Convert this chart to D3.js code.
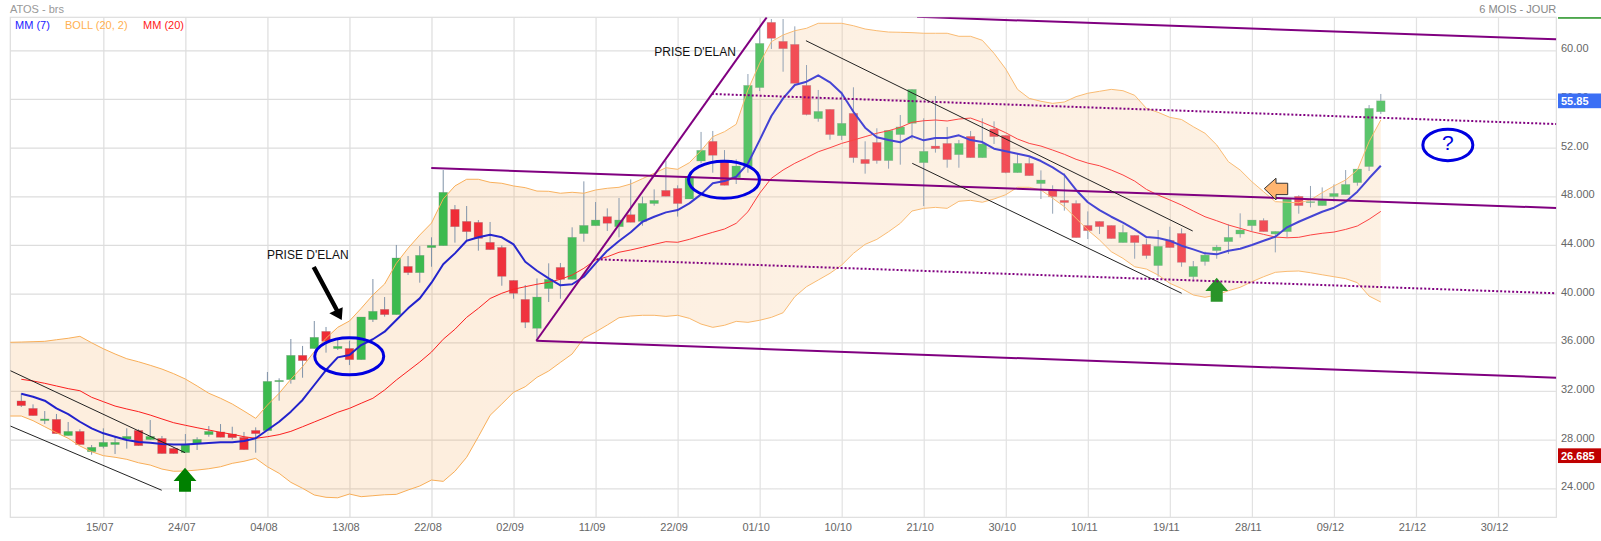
<!DOCTYPE html>
<html>
<head>
<meta charset="utf-8">
<title>ATOS - brs</title>
<script src="https://cdn.jsdelivr.net/npm/d3@7"></script>
<style>
  body { margin: 0; background: #fff; }
  svg { display: block; font-family: "Liberation Sans", Arial, sans-serif; }
  .tick text { font-size: 11px; fill: #666; }
</style>
</head>
<body>
<svg id="chart" width="1601" height="541"></svg>
<script>
// candles, one per trading day
const opens = [
  31.18, 30.57, 29.56, 29.67, 28.33, 28.68, 27.01, 27.42, 27.59, 28.05,
  28.76, 28.00, 28.10, 27.28, 26.93, 27.67, 28.41, 28.63, 28.46, 28.19,
  28.76, 28.74, 32.76, 32.93, 34.93, 35.48, 36.90, 35.48, 35.50, 34.57,
  37.86, 38.71, 38.27, 42.24, 41.72, 43.78, 43.94, 46.93, 45.94, 45.86,
  44.22, 43.80, 41.09, 39.53, 37.15, 40.41, 42.16, 41.17, 44.93, 45.58,
  46.33, 45.50, 46.49, 45.94, 47.40, 48.49, 48.65, 47.78, 50.90, 52.52,
  50.98, 49.53, 50.44, 56.93, 62.30, 60.74, 60.49, 57.12, 54.38, 55.15,
  52.98, 54.82, 51.04, 52.43, 50.93, 53.07, 54.00, 50.76, 52.13, 52.35,
  51.42, 52.93, 51.17, 53.53, 53.01, 49.94, 50.71, 49.04, 48.49, 47.67,
  47.42, 45.61, 45.94, 45.61, 44.19, 44.79, 44.05, 42.30, 44.38, 44.95,
  41.39, 42.63, 43.53, 44.27, 44.90, 45.58, 46.02, 44.90, 45.09, 48.00,
  47.48, 47.23, 47.97, 48.13, 49.12, 50.44, 54.95
];
const highs = [
  31.81, 30.90, 30.35, 30.11, 29.45, 28.85, 27.56, 28.93, 28.19, 28.93,
  28.85, 29.61, 28.30, 27.34, 28.46, 28.19, 29.12, 29.28, 29.06, 28.63,
  29.01, 33.56, 33.04, 36.27, 35.70, 37.75, 37.26, 36.19, 36.13, 38.08,
  41.20, 39.72, 44.00, 43.09, 43.91, 44.63, 50.16, 47.28, 47.20, 46.05,
  45.89, 43.97, 41.09, 40.71, 41.25, 42.49, 42.52, 45.45, 49.23, 47.53,
  47.01, 47.86, 49.39, 47.97, 48.57, 50.93, 48.90, 49.61, 53.29, 53.37,
  51.80, 51.04, 58.05, 61.94, 62.57, 62.57, 61.97, 58.79, 56.74, 55.15,
  56.60, 56.96, 52.52, 53.59, 53.42, 54.68, 56.79, 54.41, 56.24, 53.70,
  52.63, 53.37, 54.41, 54.16, 53.01, 51.53, 51.20, 50.13, 48.90, 49.89,
  47.67, 46.76, 45.94, 45.61, 45.67, 44.79, 44.54, 45.23, 45.50, 45.36,
  42.68, 43.45, 44.00, 45.69, 46.60, 46.05, 46.19, 45.12, 47.80, 48.08,
  48.85, 48.73, 48.98, 50.16, 50.24, 55.50, 56.41
];
const lows = [
  30.68, 29.97, 29.29, 28.49, 28.33, 27.59, 26.76, 27.28, 26.82, 27.26,
  27.50, 27.97, 26.85, 26.85, 26.93, 27.15, 28.24, 28.19, 28.02, 27.17,
  26.93, 28.74, 31.20, 32.60, 33.09, 35.48, 35.15, 35.37, 34.13, 34.57,
  37.67, 38.11, 38.27, 41.53, 40.90, 42.21, 43.94, 44.19, 44.41, 43.53,
  43.61, 40.65, 39.58, 37.17, 36.32, 39.31, 39.58, 41.17, 44.27, 45.58,
  45.15, 44.63, 45.86, 45.58, 47.23, 48.00, 46.33, 47.78, 50.71, 49.94,
  48.90, 49.01, 49.94, 56.65, 60.11, 58.24, 57.28, 54.65, 54.13, 52.65,
  52.63, 50.76, 49.86, 50.68, 50.27, 50.60, 52.68, 47.20, 51.59, 50.35,
  50.35, 51.17, 51.17, 52.30, 49.89, 49.94, 49.69, 47.78, 46.57, 46.82,
  44.60, 44.49, 44.90, 44.52, 44.19, 42.87, 42.87, 41.39, 43.78, 42.21,
  41.17, 42.30, 42.87, 43.26, 44.60, 45.15, 45.09, 43.39, 44.65, 46.57,
  47.09, 47.23, 47.56, 48.13, 48.87, 50.08, 54.76
];
const closes = [
  30.79, 29.97, 29.70, 28.49, 28.68, 27.59, 27.37, 27.78, 27.78, 28.27,
  27.50, 28.27, 26.85, 26.85, 27.56, 28.02, 28.68, 28.19, 28.16, 27.17,
  28.49, 32.79, 32.87, 34.93, 34.49, 36.41, 36.08, 35.67, 34.57, 38.08,
  38.55, 38.27, 42.93, 41.72, 43.15, 43.97, 48.33, 45.50, 45.09, 44.54,
  43.61, 41.42, 40.02, 37.64, 39.72, 41.17, 41.17, 44.63, 45.61, 46.05,
  45.78, 46.05, 45.86, 47.42, 47.67, 48.00, 47.40, 49.61, 51.78, 51.37,
  48.90, 50.49, 57.12, 60.57, 60.98, 60.13, 57.28, 54.71, 54.98, 53.07,
  54.00, 51.17, 50.68, 50.93, 53.42, 53.70, 56.79, 51.70, 51.91, 51.01,
  52.35, 51.17, 52.30, 52.90, 49.94, 50.71, 49.69, 49.34, 47.97, 47.48,
  44.60, 45.17, 45.50, 44.52, 45.04, 44.19, 43.12, 43.89, 43.78, 42.57,
  42.24, 43.17, 43.83, 44.63, 45.23, 46.05, 45.09, 45.12, 47.80, 47.23,
  47.56, 47.69, 48.24, 48.98, 50.24, 55.23, 55.85
];

// moving averages, same days as the candles
const mm7 = [
  31.77, 31.53, 31.20, 30.57, 30.10, 29.47, 28.93, 28.52, 28.24, 27.97,
  27.80, 27.74, 27.64, 27.61, 27.61, 27.66, 27.72, 27.78, 27.78, 27.88,
  28.11, 28.79, 29.47, 30.30, 31.26, 32.49, 33.72, 34.76, 34.95, 35.77,
  36.25, 36.87, 37.83, 38.79, 39.61, 40.90, 42.41, 43.31, 44.35, 44.63,
  44.84, 44.63, 44.05, 42.62, 41.88, 41.26, 40.68, 40.77, 41.39, 42.49,
  43.53, 44.32, 45.04, 45.91, 46.32, 46.68, 46.87, 47.42, 48.16, 49.07,
  49.25, 49.61, 50.71, 52.62, 54.60, 56.05, 57.15, 57.42, 57.94, 57.37,
  56.47, 54.95, 53.64, 52.85, 52.62, 52.44, 52.95, 52.60, 52.79, 52.79,
  53.01, 52.62, 52.46, 51.91, 51.70, 51.50, 51.29, 50.90, 50.38, 49.75,
  48.52, 47.51, 46.87, 46.32, 45.83, 45.28, 44.65, 44.57, 44.35, 43.94,
  43.64, 43.31, 43.23, 43.53, 43.69, 44.00, 44.35, 44.68, 45.45, 45.91,
  46.32, 46.73, 47.06, 47.56, 48.38, 49.48, 50.51
];
const mm20 = [
  32.96, 32.82, 32.63, 32.41, 32.19, 32.02, 31.48, 31.12, 30.76, 30.52,
  30.30, 30.02, 29.70, 29.39, 29.18, 28.98, 28.79, 28.60, 28.44, 28.24,
  28.11, 28.24, 28.41, 28.68, 29.06, 29.45, 29.84, 30.25, 30.57, 30.99,
  31.40, 32.08, 32.90, 33.64, 34.38, 35.20, 36.25, 37.07, 38.05, 38.79,
  39.60, 40.03, 40.36, 40.57, 40.77, 40.93, 41.18, 41.53, 42.08, 42.77,
  43.03, 43.40, 43.59, 43.81, 44.05, 44.27, 44.22, 44.46, 44.76, 45.04,
  45.31, 45.78, 46.73, 48.25, 49.48, 50.16, 50.71, 51.17, 51.66, 51.99,
  52.35, 52.62, 52.90, 53.18, 53.39, 53.67, 54.08, 54.21, 54.27, 54.19,
  54.35, 54.43, 54.08, 53.67, 53.22, 52.71, 52.35, 52.13, 51.80, 51.45,
  51.04, 50.73, 50.51, 50.16, 49.75, 49.25, 48.57, 48.10, 47.70, 47.28,
  46.79, 46.32, 45.99, 45.64, 45.37, 45.09, 44.87, 44.65, 44.59, 44.63,
  44.82, 44.96, 45.06, 45.28, 45.56, 46.11, 46.76
];

// bollinger bands start one day before the first candle
const bollUpper = [
  36.00,
  36.02, 36.05, 36.08, 36.21, 36.33, 36.49, 35.96, 35.47, 35.04, 34.65,
  34.40, 34.11, 33.80, 33.42, 32.98, 32.41, 31.81, 31.40, 30.93, 30.35,
  29.75, 30.84, 31.81, 32.96, 34.00, 35.23, 36.33, 37.23, 37.75, 38.79,
  39.89, 40.79, 42.49, 43.73, 44.82, 45.80, 47.78, 48.85, 49.40, 49.40,
  49.15, 49.07, 48.85, 48.71, 48.43, 48.41, 48.25, 48.33, 48.25, 48.52,
  48.66, 48.74, 49.01, 49.45, 49.89, 50.35, 50.22, 50.76, 51.75, 52.90,
  53.31, 53.92, 56.74, 58.93, 60.71, 61.26, 61.61, 61.81, 62.22, 62.22,
  62.22, 62.02, 61.75, 61.61, 61.50, 61.48, 61.45, 61.40, 61.40, 61.40,
  61.15, 61.15, 60.82, 59.75, 58.46, 56.79, 56.05, 55.81, 55.64, 55.75,
  56.19, 56.47, 56.63, 56.79, 56.68, 56.30, 55.23, 54.90, 54.49, 54.31,
  53.72, 53.18, 52.22, 50.84, 50.16, 49.20, 48.38, 47.56, 47.51, 47.47,
  47.70, 48.30, 48.85, 49.34, 50.16, 52.49, 54.27
];
const bollLower = [
  29.94,
  29.94, 29.56, 29.06, 28.57, 28.11, 27.48, 27.01, 26.68, 26.55, 26.38,
  26.10, 25.91, 25.58, 25.40, 25.42, 25.50, 25.61, 25.77, 26.05, 26.22,
  26.46, 25.77, 25.23, 24.49, 24.00, 23.45, 23.26, 23.22, 23.53, 23.31,
  23.39, 23.47, 23.50, 23.86, 24.19, 24.68, 24.57, 25.40, 26.55, 28.24,
  30.00, 30.93, 31.89, 32.35, 33.12, 33.64, 34.35, 35.04, 36.33, 36.85,
  37.42, 38.02, 38.16, 38.22, 38.22, 38.13, 38.22, 37.97, 37.50, 37.23,
  37.40, 37.72, 37.64, 37.81, 38.05, 38.43, 39.75, 40.57, 41.12, 41.67,
  42.35, 43.31, 44.05, 44.46, 45.09, 45.78, 46.79, 47.01, 47.09, 47.01,
  47.59, 47.67, 47.51, 47.78, 48.13, 48.74, 48.74, 48.52, 47.84, 47.15,
  46.19, 45.23, 44.41, 43.45, 42.90, 42.21, 42.02, 41.53, 40.85, 40.42,
  39.89, 39.70, 39.89, 40.24, 40.52, 40.98, 41.39, 41.75, 41.83, 41.86,
  41.72, 41.55, 41.39, 41.23, 40.90, 39.80, 39.31
];

// axes
const dateTicks = [7, 14, 21, 28, 35, 42, 49, 56, 63, 70, 77, 84, 91, 98, 105, 112, 119, 126];
const dateLabels = ['15/07', '24/07', '04/08', '13/08', '22/08', '02/09', '11/09', '22/09', '01/10',
  '10/10', '21/10', '30/10', '10/11', '19/11', '28/11', '09/12', '21/12', '30/12'];
const priceTicks = [60, 56, 52, 48, 44, 40, 36, 32, 28, 24];
const priceLabels = ['60.00', '56.00', '52.00', '48.000', '44.000', '40.000', '36.000', '32.000', '28.000', '24.000'];

// hand drawn annotations, as [day, price] pairs
const blackLines = [
  [[-0.94, 33.67], [13.97, 26.93]],
  [[-0.94, 29.12], [11.98, 23.84]],
  [[66.95, 60.79], [99.95, 45.15]],
  [[76.02, 50.71], [99.01, 40.03]]
];
const purpleLines = [
  [[76.43, 62.75], [130.97, 60.90]],
  [[34.98, 50.33], [130.97, 47.04]],
  [[43.94, 36.13], [130.97, 33.09]],
  [[43.94, 36.13], [63.60, 62.71]]
];
const dottedLines = [
  [[58.91, 56.41], [130.97, 53.94]],
  [[49.10, 42.82], [130.97, 40.03]]
];
const ellipses = [[27.98, 34.85, 34.5, 18.5], [59.96, 49.37, 35.5, 18.5], [121.72, 52.22, 25, 15.7]];
const eland = [[20.96, 42.85], [54.01, 59.53]];
const lastClose = 55.85;
const lastLow = 26.685;

const svg = d3.select('#chart');
const plotLeft = 10.3, plotRight = 1556.3, plotTop = 17.3, plotBottom = 517.3;

const xScale = d3.scaleLinear().domain([0, 126]).range([21.3, 1498]);
const yScale = d3.scaleLinear().domain([60, 24]).range([50.3, 488.3]);

const defs = svg.append('defs');
defs.append('clipPath').attr('id', 'plot-clip')
  .append('rect')
  .attr('x', plotLeft).attr('y', plotTop)
  .attr('width', plotRight - plotLeft).attr('height', plotBottom - plotTop);

const fade = defs.append('linearGradient').attr('id', 'fade')
  .attr('gradientUnits', 'userSpaceOnUse')
  .attr('x1', 450).attr('x2', 800).attr('y1', 0).attr('y2', 0);
fade.append('stop').attr('offset', '0%').attr('stop-color', '#fff').attr('stop-opacity', 0);
fade.append('stop').attr('offset', '100%').attr('stop-color', '#fff').attr('stop-opacity', 0.16);

// grid comes from the axes themselves
const xGrid = svg.append('g')
  .attr('transform', `translate(0,${plotBottom})`)
  .call(d3.axisBottom(xScale).tickValues(dateTicks).tickSize(plotTop - plotBottom).tickFormat(''));
xGrid.select('.domain').remove();
xGrid.selectAll('line').attr('stroke', '#ddd').attr('stroke-width', 1.2);

const yGrid = svg.append('g')
  .attr('transform', `translate(${plotLeft},0)`)
  .call(d3.axisRight(yScale).tickValues(priceTicks).tickSize(plotRight - plotLeft).tickFormat(''));
yGrid.select('.domain').remove();
yGrid.selectAll('line').attr('stroke', '#ddd').attr('stroke-width', 1.2);

svg.append('rect')
  .attr('x', plotLeft).attr('y', plotTop)
  .attr('width', plotRight - plotLeft).attr('height', plotBottom - plotTop)
  .attr('fill', 'none').attr('stroke', '#ddd').attr('stroke-width', 1.2);

const plot = svg.append('g').attr('clip-path', 'url(#plot-clip)');

// bollinger band
const days = d3.range(-1, 117);
plot.append('path')
  .datum(days)
  .attr('fill', 'rgb(245,170,90)')
  .attr('fill-opacity', 0.2)
  .attr('d', d3.area()
    .x((d) => xScale(d))
    .y0((d) => yScale(bollLower[d + 1]))
    .y1((d) => yScale(bollUpper[d + 1])));

// candles
const candles = plot.append('g').selectAll('g')
  .data(opens.map((o, i) => ({ i, o, h: highs[i], l: lows[i], c: closes[i] })))
  .enter()
  .append('g');

candles.append('line')
  .attr('x1', (d) => xScale(d.i))
  .attr('x2', (d) => xScale(d.i))
  .attr('y1', (d) => yScale(d.h))
  .attr('y2', (d) => yScale(d.l))
  .attr('stroke', '#7f92a8');

candles.append('rect')
  .attr('x', (d) => xScale(d.i) - 4.3)
  .attr('width', 8.6)
  .attr('y', (d) => yScale(Math.max(d.o, d.c)))
  .attr('height', (d) => Math.max(1, Math.abs(yScale(d.o) - yScale(d.c))))
  .attr('fill', (d) => (d.c >= d.o ? '#3cba4f' : '#ef2c37'))
  .attr('stroke', '#8a8f8f')
  .attr('stroke-opacity', 0.45)
  .attr('stroke-width', 0.6);

// indicator lines
function drawLine(values, start, color, width) {
  plot.append('path')
    .datum(values)
    .attr('fill', 'none')
    .attr('stroke', color)
    .attr('stroke-width', width)
    .attr('stroke-linejoin', 'round')
    .attr('d', d3.line()
      .x((d, i) => xScale(i + start))
      .y((d) => yScale(d)));
}

drawLine(bollUpper, -1, '#f8ae58', 1);
drawLine(bollLower, -1, '#f8ae58', 1);
drawLine(mm20, 0, '#fb1f1f', 1);
drawLine(mm7, 0, '#2222cc', 2);

function arrow(parent, tip, shape, fill, stroke) {
  const tx = xScale(tip[0]);
  const ty = yScale(tip[1]);
  parent.append('path')
    .attr('d', 'M' + shape.map((p) => `${tx + p[0]},${ty + p[1]}`).join('L') + 'Z')
    .attr('fill', fill)
    .attr('stroke', stroke || 'none');
}

// green arrows sit under the fade
const upShape = [[0, 0], [11.4, 13.3], [6, 13.3], [6, 24], [-6, 24], [-6, 13.3], [-11.4, 13.3]];
arrow(plot, [13.97, 25.69], upShape, '#008000');
arrow(plot, [102.0, 41.31], upShape, '#008000');

// the chart gets paler to the right
plot.append('rect')
  .attr('x', plotLeft).attr('y', plotTop)
  .attr('width', plotRight - plotLeft).attr('height', plotBottom - plotTop)
  .attr('fill', 'url(#fade)');

// annotations
const notes = svg.append('g').attr('clip-path', 'url(#plot-clip)');
const segment = d3.line().x((d) => xScale(d[0])).y((d) => yScale(d[1]));

purpleLines.forEach((l) => {
  notes.append('path').attr('d', segment(l)).attr('fill', 'none')
    .attr('stroke', '#800080').attr('stroke-width', 2);
});
dottedLines.forEach((l) => {
  notes.append('path').attr('d', segment(l)).attr('fill', 'none')
    .attr('stroke', '#800080').attr('stroke-width', 2).attr('stroke-dasharray', '2 2');
});
blackLines.forEach((l) => {
  notes.append('path').attr('d', segment(l)).attr('fill', 'none')
    .attr('stroke', '#222').attr('stroke-width', 1);
});

notes.selectAll('ellipse')
  .data(ellipses)
  .enter()
  .append('ellipse')
  .attr('cx', (d) => xScale(d[0]))
  .attr('cy', (d) => yScale(d[1]))
  .attr('rx', (d) => d[2])
  .attr('ry', (d) => d[3])
  .attr('fill', 'none')
  .attr('stroke', '#0000e0')
  .attr('stroke-width', 3);

notes.append('text')
  .attr('x', xScale(121.72)).attr('y', yScale(52.22) + 5.5)
  .attr('text-anchor', 'middle')
  .attr('font-size', 21).attr('fill', '#0000e0')
  .text('?');

notes.selectAll('.eland')
  .data(eland)
  .enter()
  .append('text')
  .attr('class', 'eland')
  .attr('x', (d) => xScale(d[0]))
  .attr('y', (d) => yScale(d[1]))
  .attr('font-size', 12).attr('fill', '#111')
  .text("PRISE D'ELAN");

// black arrow to the first ellipse
arrow(notes, [27.34, 37.83],
  [[0, 0], [-12.4, -6.7], [-7, -9.2], [-30, -52], [-26, -54], [-3, -11], [1, -12.7]], '#000');

// orange arrow pointing at the resistance
arrow(notes, [106.06, 48.63],
  [[0, 0], [11.7, -10.4], [11.7, -5.4], [23.4, -5.4], [23.4, 6], [11.7, 6], [11.7, 11.3]], '#ffb570', '#333');

// tick labels
const xLabels = svg.append('g')
  .attr('transform', `translate(-4,${plotBottom + 3})`)
  .call(d3.axisBottom(xScale).tickValues(dateTicks).tickSize(0).tickPadding(3)
    .tickFormat((d, i) => dateLabels[i]));
xLabels.select('.domain').remove();

const yLabels = svg.append('g')
  .attr('transform', `translate(1561,-2)`)
  .call(d3.axisRight(yScale).tickValues(priceTicks).tickSize(0).tickPadding(0)
    .tickFormat((d, i) => priceLabels[i]));
yLabels.select('.domain').remove();

// price flags on the right
function flag(value, label, color) {
  const cy = yScale(value);
  svg.append('rect')
    .attr('x', 1558).attr('y', cy - 7.3)
    .attr('width', 43).attr('height', 14.7)
    .attr('fill', color);
  svg.append('text')
    .attr('x', 1561).attr('y', cy + 4)
    .attr('font-size', 11).attr('font-weight', 'bold').attr('fill', '#fff')
    .text(label);
}
flag(lastClose, '55.85', '#3b6ff5');
flag(lastLow, '26.685', '#bf0000');

svg.append('rect')
  .attr('x', 1558).attr('y', plotTop)
  .attr('width', 43).attr('height', 1.3)
  .attr('fill', '#008000');

// header
const header = svg.append('g').attr('font-size', 11);
header.append('text').attr('x', 10).attr('y', 13).attr('fill', '#999').text('ATOS - brs');
header.append('text').attr('x', plotRight).attr('y', 13).attr('text-anchor', 'end')
  .attr('fill', '#888').text('6 MOIS - JOUR');
header.append('text').attr('x', 15).attr('y', 29).attr('fill', '#2222ff').text('MM (7)');
header.append('text').attr('x', 65).attr('y', 29).attr('fill', '#ffb050').text('BOLL (20, 2)');
header.append('text').attr('x', 143).attr('y', 29).attr('fill', '#ff2020').text('MM (20)');
</script>
</body>
</html>
